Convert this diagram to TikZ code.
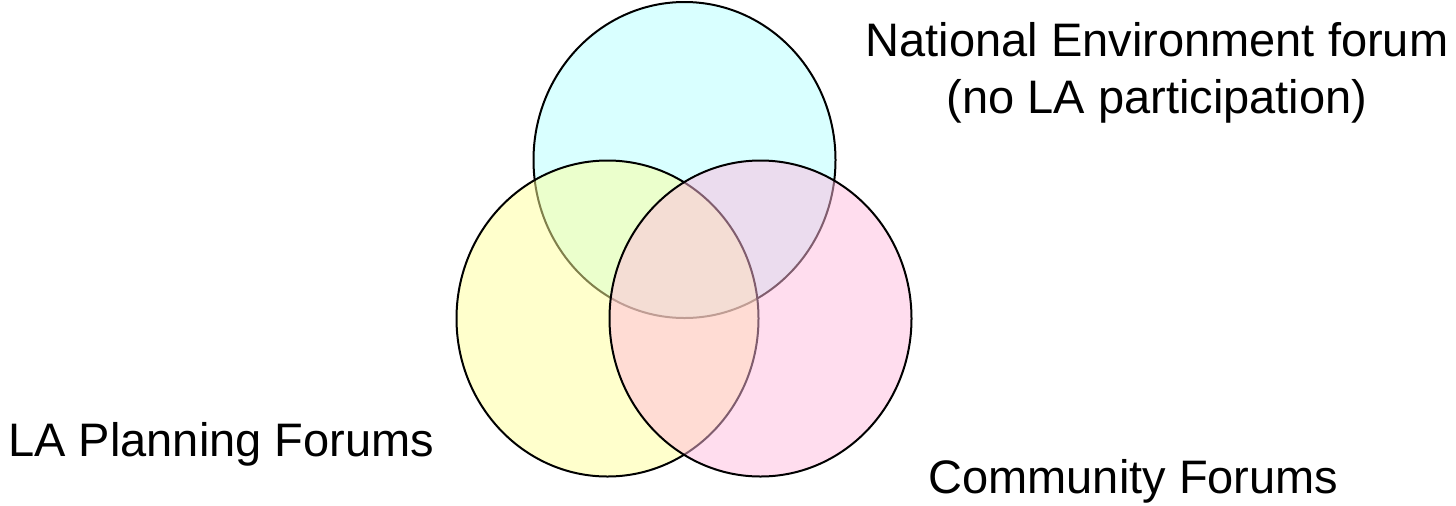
\documentclass[tikz,border=0pt]{standalone}
\usepackage{fontspec}
\setmainfont{Liberation Sans}
\usepackage{tikz}
\usetikzlibrary{shapes.geometric}
\definecolor{envcyan}{HTML}{B3FFFF}
\definecolor{planyellow}{HTML}{FFFF99}
\definecolor{commpink}{HTML}{FFBBDD}

\begin{document}
\begin{tikzpicture}[
    x=0.5pt, y=-0.5pt,
    every node/.style={font=\fontsize{23.5pt}{28.2pt}\selectfont},
    forum/.style={
      ellipse, draw=black, line width=1pt, fill opacity=0.5,
      minimum width=151pt, minimum height=158pt, inner sep=0pt
    },
    forumlabel/.style={inner sep=0pt, text=black, align=center}
  ]
  \useasboundingbox (0,0) rectangle (1456,505);

  % ===== the three forums =====
  \node[forum, fill=envcyan]    (national)  at (684.5,160) {};
  \node[forum, fill=planyellow] (planning)  at (607.5,318.5) {};
  \node[forum, fill=commpink]   (community) at (760.5,318.5) {};

  % ===== labels =====
  \node[forumlabel, anchor=center] (nationaltxt) at (1157,73)
    {National Environment forum\\(no LA participation)};
  \node[forumlabel, anchor=base west] (planningtxt) at (8,456)
    {LA Planning Forums};
  \node[forumlabel, anchor=base west] (communitytxt) at (928,493)
    {Community Forums};

\end{tikzpicture}
\end{document}
